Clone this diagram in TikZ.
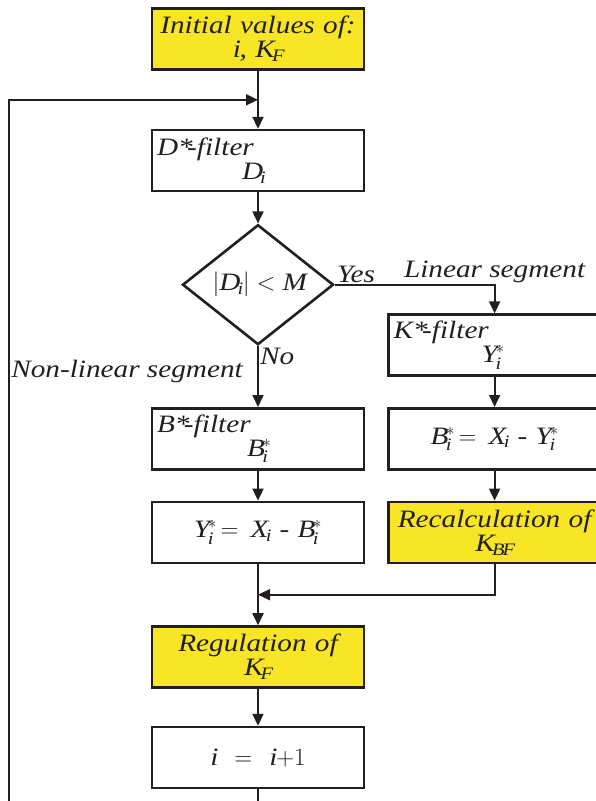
\documentclass[tikz,border=0pt]{standalone}
\usepackage{fontspec}
\setmainfont{Liberation Serif}[FakeStretch=1.17]
\usetikzlibrary{shapes.geometric, arrows.meta, positioning, calc}
\definecolor{boxyellow}{RGB}{247, 229, 38}
\definecolor{inkblack}{RGB}{35, 31, 32}
\newcommand{\ivar}[2]{\mathit{#1}_{\mathit{#2}}}
\newcommand{\svar}[1]{\mathit{#1}^{*}_{\mathit{i}}}

\begin{document}
\begin{tikzpicture}[x=1pt, y=1pt, node distance=30pt and 22pt, >={Triangle[length=12pt,width=11pt]},
    font=\fontsize{25}{24}\selectfont\itshape,
    box/.style={rectangle, draw=inkblack, line width=2.6pt, fill=white, text=inkblack, minimum width=212pt, minimum height=61pt, text width=202pt, inner xsep=5pt, inner ysep=2pt, align=center},
    filterbox/.style={box, align=left},
    markbox/.style={box, fill=boxyellow},
    decision/.style={diamond, draw=inkblack, line width=2.6pt, fill=white, text=inkblack, minimum width=151pt, minimum height=120pt, inner sep=0pt},
    flow/.style={->, line width=1.8pt, draw=inkblack},
    tag/.style={inner sep=2pt, text=inkblack}]
  \useasboundingbox (0,0) rectangle (595,-801);

  % main column
  \node (init) [markbox] at (258,-39) {Initial values of:\\$\mathit{i}$, $\ivar{K}{F}$};
  \node (dfilt) [filterbox, below=58pt of init] {D*\kern-.22em-filter\\\hspace*{85pt}$\ivar{D}{i}$};
  \node (test) [decision, below=31pt of dfilt] {$|\ivar{D}{i}| < \mathit{M}$};
  \node (bfilt) [filterbox, below=61pt of test] {B*\kern-.22em-filter\\\hspace*{90pt}$\svar{B}$};
  \node (ycalc) [box, below=of bfilt] {$\svar{Y}\!\!= \ivar{X}{i}$ - $\svar{B}$};
  \node (reg) [markbox, below=61pt of ycalc] {Regulation of\\$\ivar{K}{F}$};
  \node (inc) [box, below=37pt of reg] {$\mathit{i}\mskip2mu=\mskip2mu\mathit{i}{+}1$};

  % linear branch
  \node (bcalc) [box, right=of bfilt] {$\svar{B}\!\!= \ivar{X}{i}$ - $\svar{Y}$};
  \node (kfilt) [filterbox, above=of bcalc] {K*\kern-.22em-filter\\\hspace*{88pt}$\svar{Y}$};
  \node (recalc) [markbox, below=of bcalc] {Recalculation of\\$\ivar{K}{BF}$};

  \coordinate (loop) at ($(init.south)!0.5!(dfilt.north)$);
  \coordinate (merge) at ($(ycalc.south)!0.5!(reg.north)$);
  \coordinate (outend) at ([yshift=-40pt]inc.south);
  \coordinate (backin) at (9,-810);

  \draw[flow] (init) -- (dfilt);
  \draw[flow] (backin) |- (loop);
  \draw[flow] (dfilt) -- (test);
  \draw[flow] (test.east) -| (kfilt.north);
  \draw[flow] (test.south) -- (bfilt.north);
  \draw[flow] (bfilt) -- (ycalc);
  \draw[flow] (kfilt) -- (bcalc);
  \draw[flow] (bcalc) -- (recalc);
  \draw[flow] (recalc.south) |- (merge);
  \draw[flow] (ycalc) -- (reg);
  \draw[flow] (reg) -- (inc);
  \draw[line width=1.8pt, inkblack] (inc) -- (outend);

  % branch labels
  \node (yes) [tag, anchor=south west] at (test.east) {Yes};
  \node (no) [tag, anchor=north west] at (test.south) {No};
  \node (linear) [tag, anchor=south] at (test.east -| kfilt.north) {Linear segment};
  \node (nonlin) [tag, inner sep=0pt, anchor=east] at ([shift={(-15pt,-25.5pt)}]test.south) {Non-linear segment};
\end{tikzpicture}
\end{document}
